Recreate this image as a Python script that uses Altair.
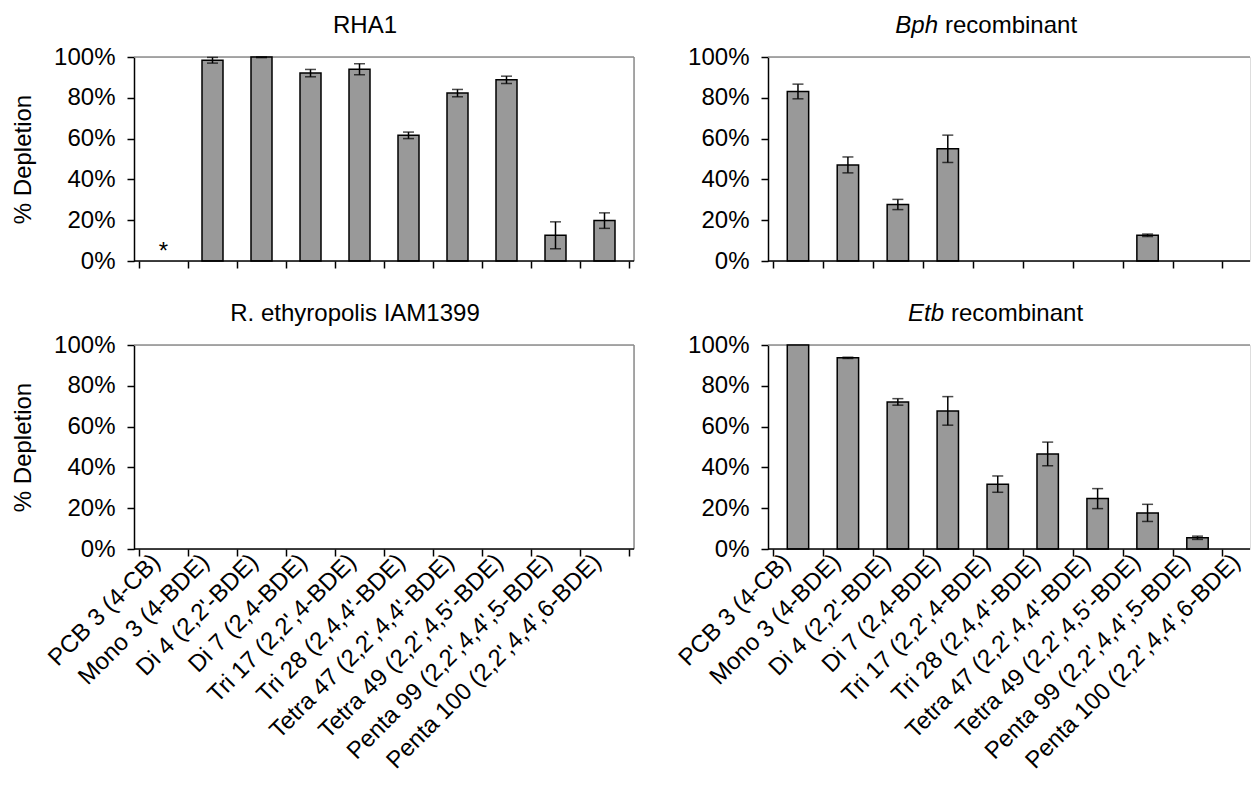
import json
import altair as alt
import pandas as pd

# ---------------- data ----------------
categories = [
    "PCB 3 (4-CB)",
    "Mono 3 (4-BDE)",
    "Di 4 (2,2'-BDE)",
    "Di 7 (2,4-BDE)",
    "Tri 17 (2,2',4-BDE)",
    "Tri 28 (2,4,4'-BDE)",
    "Tetra 47 (2,2',4,4'-BDE)",
    "Tetra 49 (2,2',4,5'-BDE)",
    "Penta 99 (2,2',4,4',5-BDE)",
    "Penta 100 (2,2',4,4',6-BDE)",
]

rha1_mean = [None, 98.4, 100.0, 92.1, 94.0, 61.6, 82.3, 88.8, 12.6, 19.8]
rha1_err = [None, 1.4, 0.3, 1.8, 2.7, 1.6, 1.8, 1.8, 6.6, 3.8]
rha1_note_cat = ["PCB 3 (4-CB)"]
rha1_note_text = ["*"]

bph_mean = [83.1, 47.1, 27.7, 55.0, None, None, None, 12.6, None, None]
bph_err = [3.6, 3.9, 2.5, 6.7, None, None, None, 0.6, None, None]

reth_mean = [None, None, None, None, None, None, None, None, None, None]
reth_err = [None, None, None, None, None, None, None, None, None, None]

etb_mean = [100.0, 93.7, 72.1, 67.7, 31.8, 46.6, 24.7, 17.7, 5.5, None]
etb_err = [None, 0.3, 1.6, 7.0, 4.0, 5.8, 4.9, 4.2, 0.8, None]

y_ticks = [0, 20, 40, 60, 80, 100]
y_title = "% Depletion"

FONT = "Liberation Sans"
FS = 24
H = 204
LEFT_W = 500      # 10 slots of 50 px
RIGHT_W = 482     # slots of 51 px, panel cut off at the right like the original
RIGHT_STEP = 51

N = len(categories)
LABEL_EXPR = json.dumps(categories + [""]) + "[datum.value]"


def one(values):
    return alt.Data(values=values)


def panel(title_parts, title_cx, means, errs, plot_w, step, show_labels, ytitle,
          right_border, label_shift, note_cats=None, note_texts=None):
    pos = {c: i + 0.5 for i, c in enumerate(categories)}
    bar_rows = [
        {"cat": c, "pos": pos[c], "mean": m}
        for c, m in zip(categories, means) if m is not None
    ]
    err_rows = [
        {"cat": c, "pos": pos[c], "lo": m - e, "hi": min(m + e, 100.0)}
        for c, m, e in zip(categories, means, errs) if m is not None and e
    ]

    xmax = plot_w / step
    xscale = alt.Scale(domain=[0, xmax], nice=False, zero=False)
    yscale = alt.Scale(domain=[0, 100], nice=False, clamp=True)

    tick_vals = [i for i in range(N + 1) if i <= xmax + 1e-9]
    axis_kw = dict(
        title=None, values=tick_vals, domain=False, ticks=True, tickSize=7,
        tickColor="black", tickWidth=1.5, grid=False, labels=show_labels,
        labelExpr=LABEL_EXPR,
    )
    if show_labels:
        axis_kw.update(
            labelAngle=-45, labelAlign="right", labelBaseline="middle",
            labelOffset=step / 2 + label_shift, labelPadding=2, labelFontSize=FS,
            labelFont=FONT, labelColor="black", labelLimit=500,
            labelOverlap=False, labelBound=False, labelFlush=False,
        )
    x_axis = alt.Axis(**axis_kw)

    yaxis_kw = dict(
        values=y_ticks, labelExpr="datum.value + '%'", grid=False,
        domainColor="black", domainWidth=1.5, tickSize=7, tickColor="black",
        tickWidth=1.5, labelFontSize=FS, labelFont=FONT, labelColor="black",
        labelPadding=12,
    )
    if ytitle:
        yaxis_kw.update(title=ytitle, titleFontSize=FS, titleFont=FONT,
                        titleFontWeight="normal", titleColor="black",
                        titlePadding=18)
    else:
        yaxis_kw.update(title=None)
    y_axis = alt.Axis(**yaxis_kw)

    def X():
        return alt.X("pos:Q", scale=xscale, axis=x_axis)

    def Y(field):
        return alt.Y(field, scale=yscale, axis=y_axis)

    layers = []
    # frame: top (and right) border in grey
    layers.append(alt.Chart(one([{"a": 0}])).mark_rule(color="#8c8c8c", strokeWidth=1.5).encode(
        x=alt.value(0), x2=alt.value(plot_w), y=alt.value(0)))
    if right_border:
        layers.append(alt.Chart(one([{"a": 0}])).mark_rule(color="#8c8c8c", strokeWidth=1.5).encode(
            x=alt.value(plot_w), y=alt.value(0), y2=alt.value(H)))

    layers.append(alt.Chart(one(bar_rows)).mark_bar(
        color="#999999", stroke="black", strokeWidth=1.5, orient="vertical",
        width=round(step * 0.42, 1),
    ).encode(x=X(), y=Y("mean:Q")))

    if err_rows:
        err_base = alt.Chart(one(err_rows))
        layers.append(err_base.mark_rule(color="black", strokeWidth=1.5).encode(
            x=X(), y=Y("lo:Q"), y2="hi:Q"))
        layers.append(err_base.mark_tick(color="black", thickness=1.5, size=11,
                                         orient="horizontal").encode(x=X(), y=Y("lo:Q")))
        layers.append(err_base.mark_tick(color="black", thickness=1.5, size=11,
                                         orient="horizontal").encode(x=X(), y=Y("hi:Q")))

    if note_cats:
        note_rows = [{"cat": c, "pos": pos[c], "v": 0, "t": t}
                     for c, t in zip(note_cats, note_texts)]
        layers.append(alt.Chart(one(note_rows)).mark_text(
            font=FONT, fontSize=FS, baseline="bottom", dy=3, color="black").encode(
            x=X(), y=Y("v:Q"), text="t:N"))

    # bottom axis line (category axis)
    layers.append(alt.Chart(one([{"a": 0}])).mark_rule(color="black", strokeWidth=1.5).encode(
        x=alt.value(0), x2=alt.value(plot_w), y=alt.value(H)))

    # title (possibly mixed italic / normal)
    if len(title_parts) == 1:
        layers.append(alt.Chart(one([{"t": title_parts[0]}])).mark_text(
            font=FONT, fontSize=FS, align="center", baseline="middle", color="black").encode(
            text="t:N", x=alt.value(title_cx), y=alt.value(-31)))
    else:
        italic, normal = title_parts
        split = title_cx - 40
        layers.append(alt.Chart(one([{"t": italic}])).mark_text(
            font=FONT, fontSize=FS, fontStyle="italic", align="right", baseline="middle",
            color="black").encode(text="t:N", x=alt.value(split), y=alt.value(-31)))
        layers.append(alt.Chart(one([{"t": normal}])).mark_text(
            font=FONT, fontSize=FS, align="left", baseline="middle", color="black").encode(
            text="t:N", x=alt.value(split + 7), y=alt.value(-31)))

    return alt.layer(*layers).properties(width=plot_w, height=H)


LEFT_STEP = LEFT_W / N

rha1 = panel(["RHA1"], 231, rha1_mean, rha1_err, LEFT_W, LEFT_STEP, False, y_title, True,
             -8, rha1_note_cat, rha1_note_text)
bph = panel(["Bph", "recombinant"], 210, bph_mean, bph_err, RIGHT_W, RIGHT_STEP, False, None,
            False, -12)
reth = panel(["R. ethyropolis IAM1399"], 221, reth_mean, reth_err, LEFT_W, LEFT_STEP, True,
             y_title, True, -8)
etb = panel(["Etb", "recombinant"], 216, etb_mean, etb_err, RIGHT_W, RIGHT_STEP, True, None,
            False, -12)

# plot areas: left 134..634, right from 768; rows start at 56 and 344
chart = alt.concat(
    rha1, bph, reth, etb, columns=2, bounds="flush",
    spacing={"row": 84, "column": 134},
).properties(
    padding={"left": 3, "top": 5, "right": 0, "bottom": 0}
).configure_view(stroke=None).configure(background="white")

chart.save("out.html", embed_options={"renderer": "svg", "actions": False})
